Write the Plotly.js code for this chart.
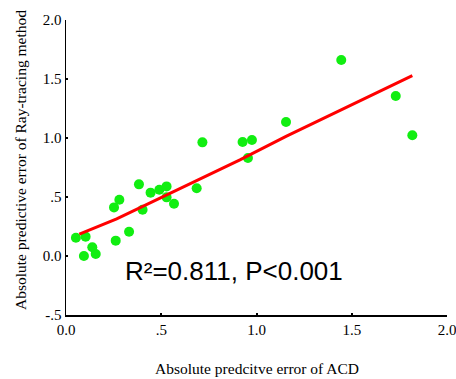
<!DOCTYPE html>
<html>
<head>
<meta charset="utf-8">
<script src="https://cdn.plot.ly/plotly-3.0.1.min.js"></script>
<style>html,body{margin:0;padding:0;background:#fff;}#chart{width:456px;height:379px;}</style>
</head>
<body>
<div id="chart"></div>
<script>
// Absolute predictive error of ACD (x) vs Ray-tracing method (y)
const acdError = [0.052, 0.103, 0.094, 0.138, 0.156, 0.252, 0.280, 0.261, 0.331, 0.383, 0.402, 0.444, 0.490, 0.528, 0.528, 0.567, 0.686, 0.716, 0.927, 0.976, 0.955, 1.155, 1.445, 1.731, 1.818];
const rayError = [0.155, 0.164, 0.000, 0.074, 0.017, 0.412, 0.477, 0.130, 0.206, 0.607, 0.392, 0.537, 0.562, 0.590, 0.497, 0.443, 0.574, 0.963, 0.966, 0.983, 0.831, 1.136, 1.661, 1.356, 1.023];
// Fitted line as drawn
const fitX = [0.070, 0.266, 0.913, 1.155, 1.818];
const fitY = [0.186, 0.314, 0.814, 1.014, 1.528];
// Tick labels
const xTickVals = [0, 0.5, 1.0, 1.5, 2.0];
const xTickText = ["0.0", ".5", "1.0", "1.5", "2.0"];
const yTickVals = [-0.5, 0, 0.5, 1.0, 1.5, 2.0];
const yTickText = ["-.5", "0.0", ".5", "1.0", "1.5", "2.0"];
const xTitle = "Absolute predcitve error of ACD";
const yTitle = "Absolute predictive error of Ray-tracing method";
const statsText = "R²=0.811, P&lt;0.001";

const serif = "Liberation Serif, Times New Roman, serif";

const traces = [
  {x: acdError, y: rayError, type: "scatter", mode: "markers",
   marker: {color: "#11ee11", size: 10, line: {width: 0}}, hoverinfo: "skip"},
  {x: fitX, y: fitY, type: "scatter", mode: "lines",
   line: {color: "#ff0000", width: 3}, hoverinfo: "skip"}
];

const layout = {
  width: 456, height: 379,
  margin: {l: 66, r: 9, t: 20, b: 64},
  paper_bgcolor: "#fff", plot_bgcolor: "#fff",
  showlegend: false,
  xaxis: {
    range: [0, 2], showgrid: false, zeroline: false,
    showline: true, linecolor: "#000", linewidth: 1.5,
    tickvals: xTickVals, ticktext: xTickText, ticklabeloverflow: "allow",
    ticks: "inside", ticklen: 2, tickwidth: 2, tickcolor: "#000",
    tickfont: {family: serif, size: 15, color: "#000"},
    automargin: false, fixedrange: true
  },
  yaxis: {
    range: [-0.5, 2], showgrid: false, zeroline: false,
    showline: true, linecolor: "#000", linewidth: 1.5,
    tickvals: yTickVals, ticktext: yTickText, ticklabeloverflow: "allow",
    ticks: "inside", ticklen: 2, tickwidth: 2, tickcolor: "#000",
    tickfont: {family: serif, size: 15, color: "#000"},
    automargin: false, fixedrange: true
  },
  annotations: [
    {x: 0.297, y: -0.127, xref: "x", yref: "y", xanchor: "left", yanchor: "middle",
     text: statsText, showarrow: false,
     font: {family: "Liberation Sans, Arial, sans-serif", size: 26, color: "#000"}},
    {x: 0.5, y: -53 / 295, xref: "paper", yref: "paper", xanchor: "center", yanchor: "middle",
     text: xTitle, showarrow: false,
     font: {family: serif, size: 15.5, color: "#000"}},
    {x: -46 / 381, y: (315 - 160) / 295, xref: "paper", yref: "paper", xanchor: "center", yanchor: "middle",
     text: yTitle, showarrow: false, textangle: -90,
     font: {family: serif, size: 15.5, color: "#000"}}
  ]
};

Plotly.newPlot("chart", traces, layout, {displayModeBar: false, staticPlot: true});
</script>
</body>
</html>
